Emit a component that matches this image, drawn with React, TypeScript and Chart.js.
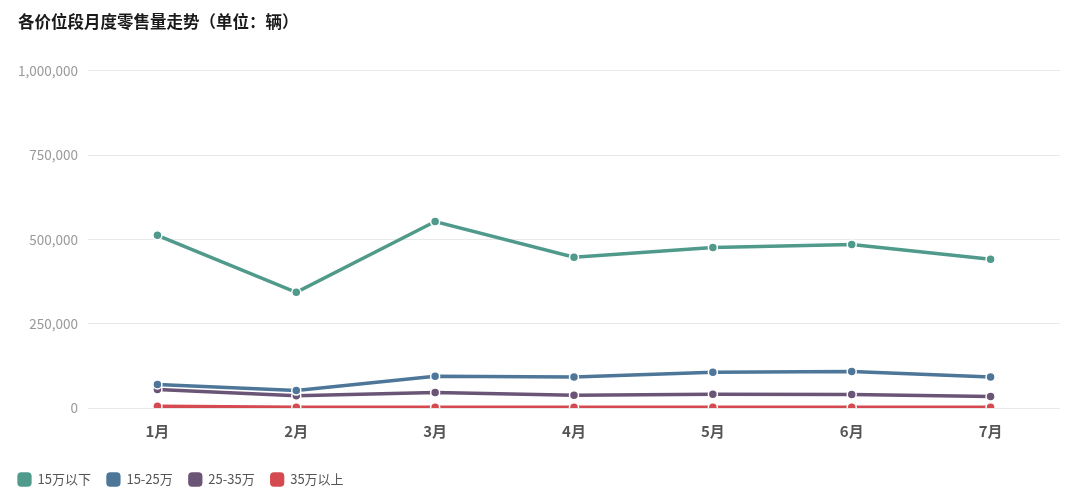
import React, { useEffect, useRef } from "react";
import { Chart, registerables, ChartConfiguration, Plugin } from "chart.js";

Chart.register(...registerables);

const months = ["1月", "2月", "3月", "4月", "5月", "6月", "7月"];
const under15 = [512000, 343000, 553000, 447000, 476000, 485000, 441000];
const from15to25 = [70000, 52000, 94000, 92000, 106000, 108000, 92000];
const from25to35 = [55000, 36000, 46000, 38000, 41000, 40000, 34000];
const over35 = [5000, 2000, 2500, 2500, 2500, 2500, 2000];

const seriesNames = ["15万以下", "15-25万", "25-35万", "35万以上"];
const seriesColors = ["#4f9a8b", "#4d7699", "#6b5577", "#d54a50"];

const FONT = "'Noto Sans CJK SC', 'Noto Sans', sans-serif";

// legend starts flush with the title, not indented by the item padding
const legendShift: Plugin<"line"> = {
  id: "legendShift",
  afterLayout(chart) {
    if (chart.legend) chart.legend.left = 2;
  },
};

const App: React.FC = () => {
  const canvasRef = useRef<HTMLCanvasElement | null>(null);

  useEffect(() => {
    document.body.style.margin = "0";
    const ctx = canvasRef.current?.getContext("2d");
    if (!ctx) return;

    const values = [under15, from15to25, from25to35, over35];

    const config: ChartConfiguration<"line", number[], string> = {
      type: "line",
      data: {
        labels: months,
        datasets: values.map((data, i) => ({
          label: seriesNames[i],
          data,
          borderColor: seriesColors[i],
          backgroundColor: seriesColors[i],
          borderWidth: 3.5,
          pointRadius: 4.5,
          pointBorderColor: "#ffffff",
          pointBorderWidth: 1.5,
          pointBackgroundColor: seriesColors[i],
          tension: 0,
        })),
      },
      options: {
        animation: false,
        responsive: true,
        maintainAspectRatio: false,
        layout: { padding: { left: 18, right: 20, top: 0, bottom: 4 } },
        plugins: {
          title: {
            display: true,
            text: "各价位段月度零售量走势（单位：辆）",
            align: "start",
            color: "#1a1a1a",
            font: { family: FONT, size: 16.5, weight: "bold" },
            padding: { top: 12, bottom: 39 },
          },
          legend: {
            position: "bottom",
            align: "start",
            labels: {
              usePointStyle: true,
              pointStyle: "rectRounded",
              boxWidth: 13,
              boxHeight: 13,
              padding: 16,
              color: "#555555",
              font: { family: FONT, size: 13 },
            },
          },
          tooltip: { enabled: false },
        },
        scales: {
          x: {
            offset: true,
            grid: { display: false },
            border: { display: false },
            afterFit: (scale) => {
              scale.height += 11;
            },
            ticks: {
              color: "#555555",
              padding: 6,
              font: { family: FONT, size: 15, weight: "bold" },
            },
          },
          y: {
            min: 0,
            max: 1000000,
            border: { display: false },
            grid: { color: "#e9e9e9", drawTicks: false },
            afterFit: (scale) => {
              scale.width = 70;
            },
            ticks: {
              stepSize: 250000,
              color: "#999999",
              padding: 10,
              font: { family: FONT, size: 13.5 },
              callback: (v) => Number(v).toLocaleString("en-US"),
            },
          },
        },
      },
      plugins: [legendShift],
    };

    const chart = new Chart(ctx, config);
    return () => {
      chart.destroy();
    };
  }, []);

  return (
    <div style={{ width: "1080px", height: "500px", background: "#fff" }}>
      <canvas ref={canvasRef} />
    </div>
  );
};

export default App;
